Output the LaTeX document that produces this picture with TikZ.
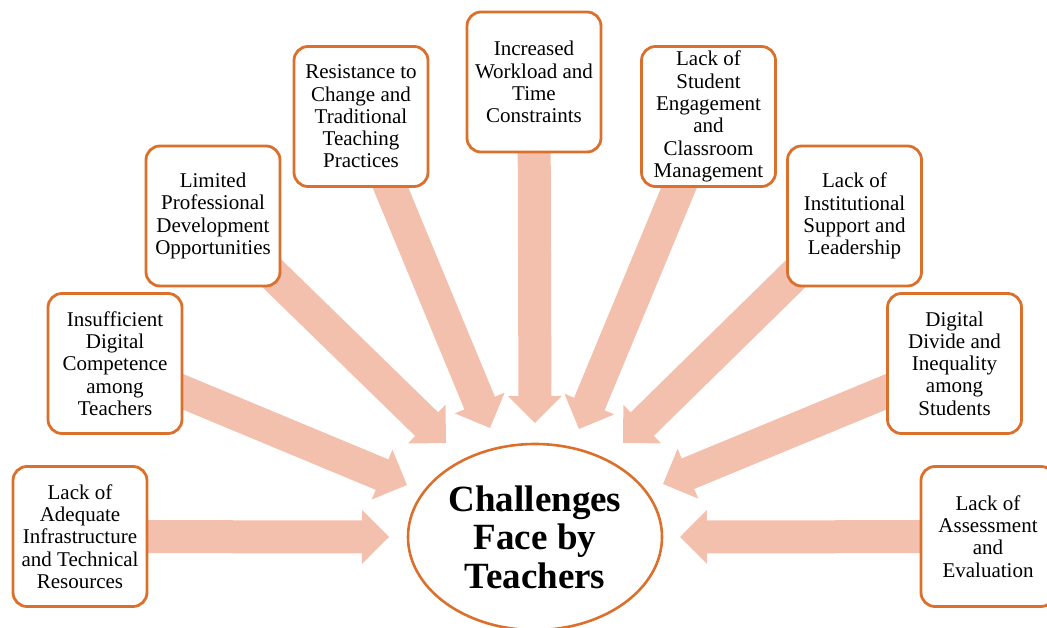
\documentclass[tikz,border=0pt]{standalone}
\usepackage{fontspec}
\setmainfont{Liberation Serif}
\usetikzlibrary{calc,shapes.geometric}
\definecolor{boxorange}{RGB}{218,112,44}
\definecolor{arrowfill}{RGB}{244,192,174}
\newcommand\blockarrow[2]{%
  \coordinate (h) at ($(#2)!27pt!(#1)$);
  \fill[arrowfill] ($(#1)!16.5pt!90:(#2)$) -- ($(h)!16.5pt!90:(#2)$) -- ($(h)!27pt!90:(#2)$) -- (#2) -- ($(h)!27pt!-90:(#2)$) -- ($(h)!16.5pt!-90:(#2)$) -- ($(#1)!16.5pt!-90:(#2)$) -- cycle;}
\begin{document}
\begin{tikzpicture}[x=1pt,y=-1pt,
  challenge/.style={draw=boxorange, line width=2.8pt, fill=white, rounded corners=14pt,
    minimum width=134pt, minimum height=140pt, align=center, inner sep=0pt,
    font=\fontsize{21}{22.3}\selectfont},
  hub/.style={ellipse, draw=boxorange, line width=2.6pt, fill=white,
    minimum width=254pt, minimum height=186pt, align=center, inner sep=0pt,
    font=\fontsize{37}{38.5}\selectfont\bfseries}]
\useasboundingbox (0,0) rectangle (1047,628);
% tips
\coordinate (t1) at (389,537);
\coordinate (t2) at (407,485);
\coordinate (t3) at (446,443);
\coordinate (t4) at (490,428);
\coordinate (t5) at (535,423);
\coordinate (t6) at (579,429);
\coordinate (t7) at (623,443);
\coordinate (t8) at (663,484);
\coordinate (t9) at (680,537);
% box centres
\coordinate (c1) at (80,536.5);
\coordinate (c2) at (115,363.5);
\coordinate (c3) at (213,216);
\coordinate (c4) at (361,116.5);
\coordinate (c5) at (534,82);
\coordinate (c6) at (708.5,116.5);
\coordinate (c7) at (854.5,216);
\coordinate (c8) at (954.5,363.5);
\coordinate (c9) at (988,536.5);
% arrows
\foreach \i in {1,...,9} {\blockarrow{c\i}{t\i}}
% boxes
\node[challenge] (b1) at (c1) {Lack of\\Adequate\\Infrastructure\\and Technical\\Resources};
\node[challenge] (b2) at (c2) {Insufficient\\Digital\\Competence\\among\\Teachers};
\node[challenge] (b3) at (c3) {Limited\\Professional\\Development\\Opportunities};
\node[challenge] (b4) at (c4) {Resistance to\\Change and\\Traditional\\Teaching\\Practices};
\node[challenge] (b5) at (c5) {Increased\\Workload and\\Time\\Constraints};
\node[challenge] (b6) at (c6) {Lack of\\Student\\Engagement\\and\\Classroom\\Management};
\node[challenge] (b7) at (c7) {Lack of\\Institutional\\Support and\\Leadership};
\node[challenge] (b8) at (c8) {Digital\\Divide and\\Inequality\\among\\Students};
\node[challenge] (b9) at (c9) {Lack of\\Assessment\\and\\Evaluation};
\node[hub] (hub) at (535,537) {Challenges\\Face by\\Teachers};
\end{tikzpicture}
\end{document}
